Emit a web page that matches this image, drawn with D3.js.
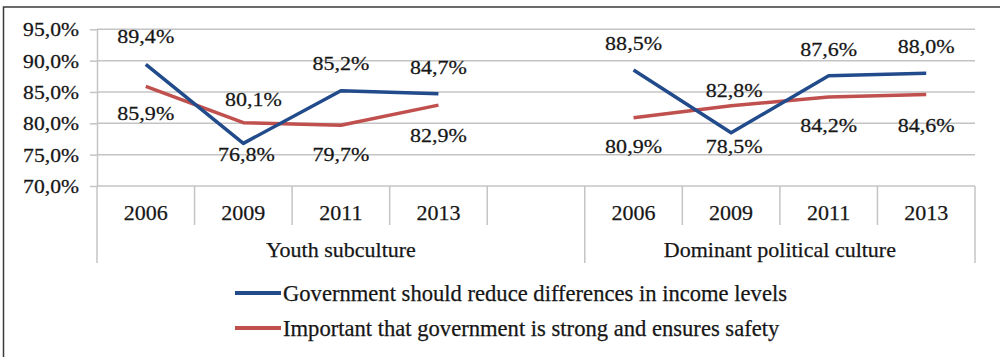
<!DOCTYPE html>
<html>
<head>
<meta charset="utf-8">
<script src="https://cdn.jsdelivr.net/npm/d3@7"></script>
<style>
  html, body { margin: 0; padding: 0; background: #fff; }
  svg { display: block; }
</style>
</head>
<body>
<svg id="chart" width="1000" height="357"></svg>
<script>
// ---- data ----
const groups = ["Youth subculture", "Dominant political culture"];
const years = ["2006", "2009", "2011", "2013"];
const seriesNames = [
  "Government should reduce differences in income levels",
  "Important that government is strong and ensures safety"
];
const incomeYouth    = [89.4, 76.8, 85.2, 84.7];
const incomeDominant = [88.5, 78.5, 87.6, 88.0];
const safetyYouth    = [85.9, 80.1, 79.7, 82.9];
const safetyDominant = [80.9, 82.8, 84.2, 84.6];
const yTicks = [70, 75, 80, 85, 90, 95];

// label placement relative to each point: [dx, dy]
const incomeLabelShift = [[[0, -28], [3, 11], [0, -28], [0, -27]], [[0, -27], [3, 13], [0, -27], [0, -27]]];
const safetyLabelShift = [[[0, 27], [10, -24], [0, 29], [0, 30]], [[0, 28], [3, -16], [0, 28], [0, 30]]];

const colors = ["#224b8b", "#c0504d"];
const FONT = "'Liberation Serif', Tinos, 'Times New Roman', 'DejaVu Serif', serif";
const TEXT_COLOR = "#161616";

// ---- layout ----
const svg = d3.select("#chart")
  .attr("font-family", FONT);
const plot = { left: 97, right: 975, top: 29.3, bottom: 186 };

// slots: first group has the four years plus an empty spacer slot
const slots = [];
groups.forEach((g, gi) => {
  years.forEach(y => slots.push({ key: gi + "|" + y, group: gi, year: y }));
  if (gi === 0) slots.push({ key: gi + "|gap", group: gi, year: "" });
});

const x = d3.scaleBand().domain(slots.map(s => s.key)).range([plot.left, plot.right]);
const y = d3.scaleLinear().domain([70, 95]).range([plot.bottom, plot.top]);

const locale = d3.formatLocale({ decimal: ",", thousands: " ", grouping: [3], currency: ["", ""] });
const fmt = locale.format(".1f");
const pct = v => fmt(v) + "%";

function styleText(sel, size) {
  return sel.attr("font-family", FONT).attr("font-size", size).attr("fill", TEXT_COLOR)
    .attr("stroke", TEXT_COLOR).attr("stroke-width", 0.25);
}

// outer frame (left and top edges)
svg.append("path")
  .attr("d", "M3.5,357 L3.5,7 L1000,7")
  .attr("fill", "none").attr("stroke", "#3a3a3a").attr("stroke-width", 1.5);

// horizontal gridlines
svg.append("g").selectAll("line").data(yTicks.filter(t => t > 70)).join("line")
  .attr("x1", plot.left).attr("x2", plot.right)
  .attr("y1", d => y(d)).attr("y2", d => y(d))
  .attr("stroke", "#c4c4c4").attr("stroke-width", 1.5);

// y axis
const yAxis = svg.append("g").attr("transform", `translate(${plot.left},0)`)
  .call(d3.axisLeft(y).tickValues(yTicks).tickFormat(pct).tickSize(7).tickSizeOuter(0));
yAxis.attr("font-family", FONT);
yAxis.select(".domain").attr("stroke", "#c4c4c4").attr("stroke-width", 1.5);
yAxis.selectAll(".tick line").attr("stroke", "#c4c4c4").attr("stroke-width", 1.5);
const tickScale = 1.17;
styleText(yAxis.selectAll(".tick text"), 18.5)
  .attr("x", null).attr("dy", null)
  .attr("text-anchor", "end").attr("dominant-baseline", "central")
  .attr("transform", `translate(-18,0) scale(${tickScale},1)`);

// category axis: base line, slot dividers and labels
svg.append("line")
  .attr("x1", plot.left).attr("x2", plot.right)
  .attr("y1", plot.bottom).attr("y2", plot.bottom)
  .attr("stroke", "#c4c4c4").attr("stroke-width", 1.5);

const bounds = [];
slots.forEach((s, i) => {
  const left = x(s.key);
  const isGroupEdge = i === 0 || slots[i - 1].group !== s.group;
  bounds.push({ x: left, long: isGroupEdge });
});
bounds.push({ x: plot.right, long: true });

svg.append("g").selectAll("line").data(bounds).join("line")
  .attr("x1", d => d.x).attr("x2", d => d.x)
  .attr("y1", plot.bottom).attr("y2", d => d.long ? 263 : 225)
  .attr("stroke", "#c4c4c4").attr("stroke-width", 1.5);

styleText(svg.append("g").selectAll("text").data(slots.filter(s => s.year)).join("text"), 22)
  .attr("x", d => x(d.key) + x.bandwidth() / 2)
  .attr("y", 212)
  .attr("text-anchor", "middle").attr("dominant-baseline", "central")
  .text(d => d.year);

styleText(svg.append("g").selectAll("text").data(groups).join("text"), 22)
  .attr("x", (d, gi) => {
    const ss = slots.filter(s => s.group === gi);
    const l = x(ss[0].key), r = x(ss[ss.length - 1].key) + x.bandwidth();
    return (l + r) / 2;
  })
  .attr("y", 249)
  .attr("text-anchor", "middle").attr("dominant-baseline", "central")
  .text(d => d);

// ---- lines and labels ----
const seriesData = [
  { color: colors[0], values: [incomeYouth, incomeDominant], shift: incomeLabelShift },
  { color: colors[1], values: [safetyYouth, safetyDominant], shift: safetyLabelShift }
];

const line = d3.line().x(d => d.x).y(d => d.y);
const labelScale = 1.13;

// red is drawn first so the blue line sits on top
[1, 0].forEach(si => {
  const s = seriesData[si];
  s.values.forEach((vals, gi) => {
    const pts = vals.map((v, i) => ({
      x: x(gi + "|" + years[i]) + x.bandwidth() / 2,
      y: y(v), v
    }));
    svg.append("path").datum(pts)
      .attr("d", line)
      .attr("fill", "none").attr("stroke", s.color)
      .attr("stroke-width", 3.5).attr("stroke-linejoin", "round");
  });
});

seriesData.forEach(s => {
  s.values.forEach((vals, gi) => {
    vals.forEach((v, i) => {
      const px = x(gi + "|" + years[i]) + x.bandwidth() / 2;
      const [dx, dy] = s.shift[gi][i];
      styleText(svg.append("text"), 19.5)
        .attr("text-anchor", "middle").attr("dominant-baseline", "central")
        .attr("transform", `translate(${px + dx},${y(v) + dy}) scale(${labelScale},1)`)
        .text(pct(v));
    });
  });
});

// ---- legend ----
const legend = svg.append("g");
const legendRows = legend.selectAll("g").data(seriesNames).join("g")
  .attr("transform", (d, i) => `translate(235,${293 + i * 35})`);
legendRows.append("line")
  .attr("x1", 0).attr("x2", 46).attr("y1", 0).attr("y2", 0)
  .attr("stroke", (d, i) => colors[i]).attr("stroke-width", 4);
styleText(legendRows.append("text"), 22.6)
  .attr("x", 48).attr("y", 0)
  .attr("dominant-baseline", "central")
  .text(d => d);
</script>
</body>
</html>
